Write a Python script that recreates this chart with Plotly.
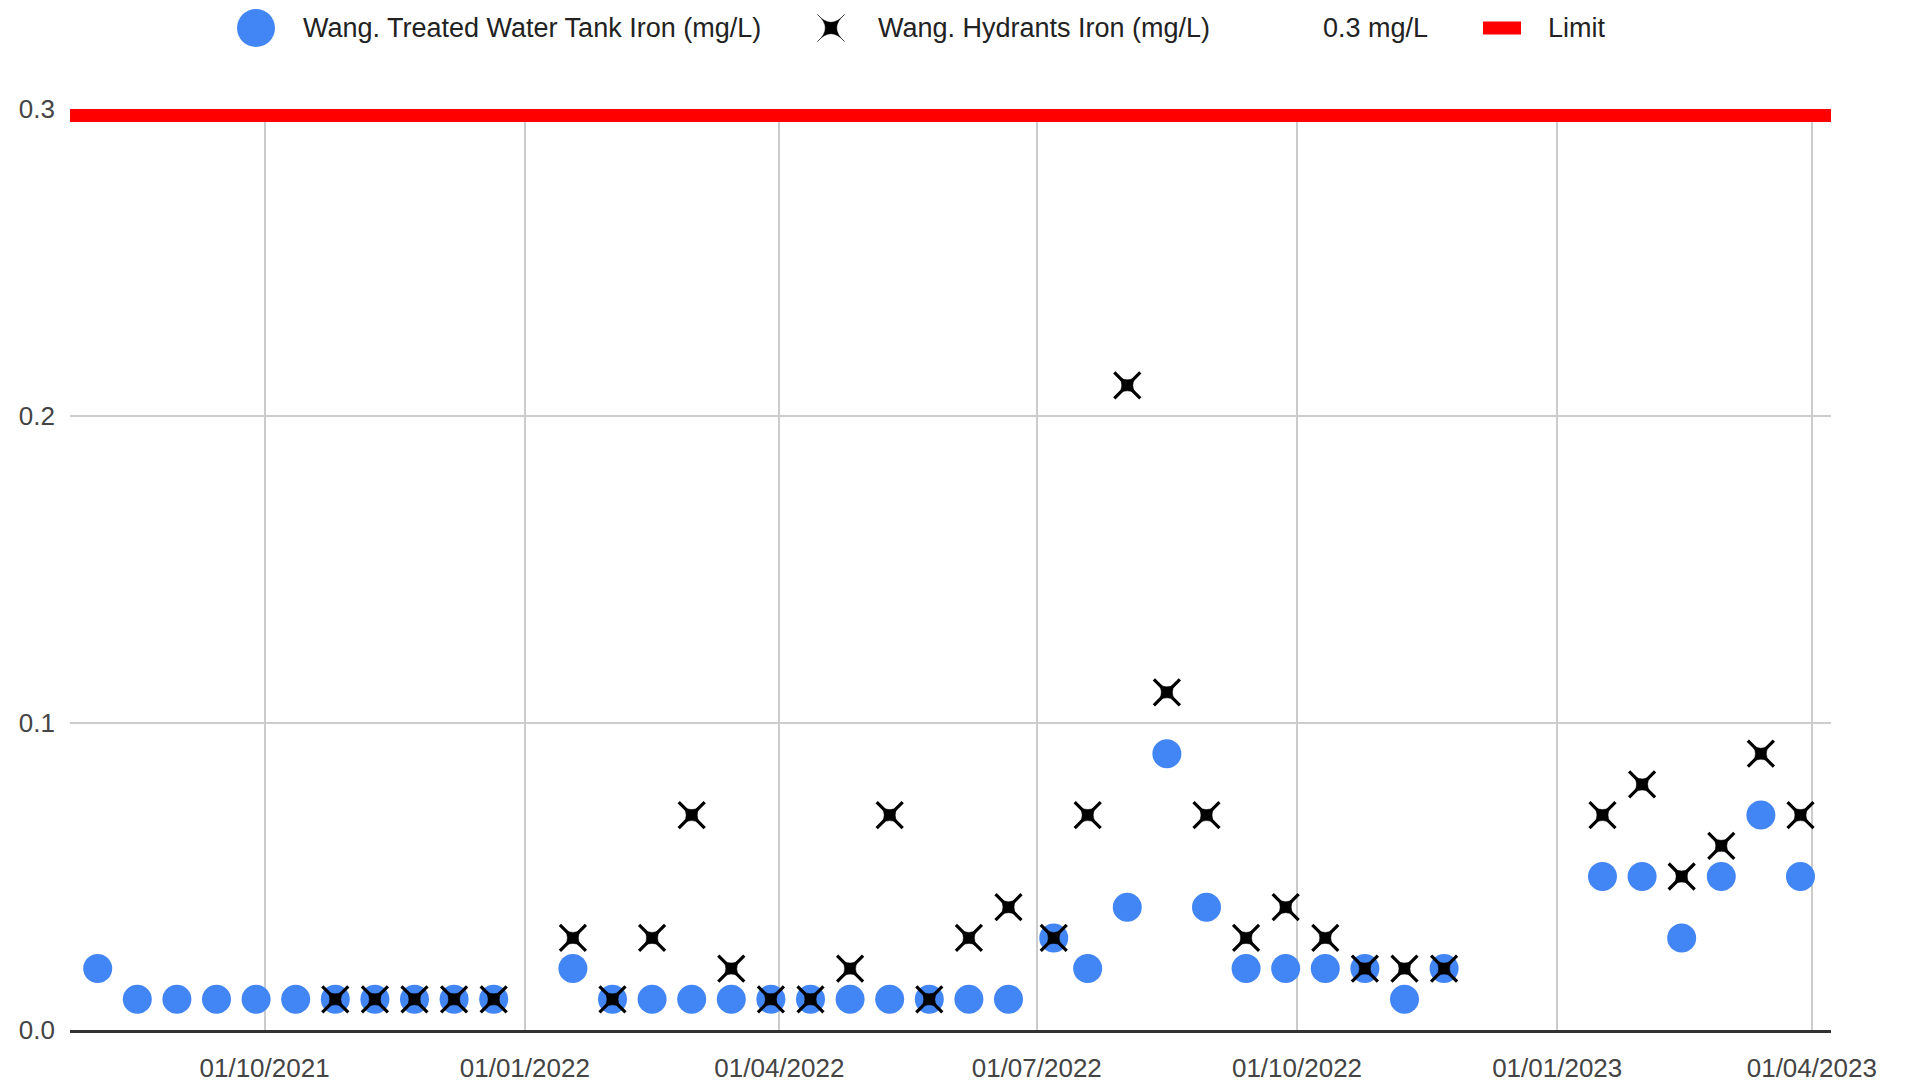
import plotly.graph_objects as go

# ---------------- data ----------------
sample_dates = [
    "2021-08-03", "2021-08-17", "2021-08-31", "2021-09-14", "2021-09-28",
    "2021-10-12", "2021-10-26", "2021-11-09", "2021-11-23", "2021-12-07", "2021-12-21",
    "2022-01-18", "2022-02-01", "2022-02-15", "2022-03-01", "2022-03-15", "2022-03-29",
    "2022-04-12", "2022-04-26", "2022-05-10", "2022-05-24", "2022-06-07", "2022-06-21",
    "2022-07-07", "2022-07-19", "2022-08-02", "2022-08-16", "2022-08-30", "2022-09-13",
    "2022-09-27", "2022-10-11", "2022-10-25", "2022-11-08", "2022-11-22",
    "2023-01-17", "2023-01-31", "2023-02-14", "2023-02-28", "2023-03-14", "2023-03-28",
]
tank_iron = [
    0.02, 0.01, 0.01, 0.01, 0.01,
    0.01, 0.01, 0.01, 0.01, 0.01, 0.01,
    0.02, 0.01, 0.01, 0.01, 0.01, 0.01,
    0.01, 0.01, 0.01, 0.01, 0.01, 0.01,
    0.03, 0.02, 0.04, 0.09, 0.04, 0.02,
    0.02, 0.02, 0.02, 0.01, 0.02,
    0.05, 0.05, 0.03, 0.05, 0.07, 0.05,
]
hydrant_iron = [
    None, None, None, None, None,
    None, 0.01, 0.01, 0.01, 0.01, 0.01,
    0.03, 0.01, 0.03, 0.07, 0.02, 0.01,
    0.01, 0.02, 0.07, 0.01, 0.03, 0.04,
    0.03, 0.07, 0.21, 0.11, 0.07, 0.03,
    0.04, 0.03, 0.02, 0.02, 0.02,
    0.07, 0.08, 0.05, 0.06, 0.09, 0.07,
]
limit_value = 0.3
x_range = ["2021-07-24 05:00", "2023-04-07 19:00"]
x_tick_start = "2021-10-01"
y_ticks = [0.0, 0.1, 0.2, 0.3]

series_names = [
    "Wang. Treated Water Tank Iron (mg/L)",
    "Wang. Hydrants Iron (mg/L)",
    "0.3 mg/L",
    "Limit",
]

# ---------------- style ----------------
BLUE = "#4285F4"
FONT = "Liberation Sans, Arial, sans-serif"
FS = 26
FS_LEG = 27
OFF = 8                       # page body margin in the browser
W, H = 1907 - 2 * OFF, 1086 - OFF
ML, MT = 70 - OFF, 109 - OFF
PW = 1831 - 70
PH = 1030 - 109
MR = W - ML - PW
MB = H - MT - PH


def px_x(px):  # page pixel -> paper fraction
    return (px - OFF - ML) / PW


def px_y(py):
    return (MT + PH - (py - OFF)) / PH


fig = go.Figure()

# limit line (thick, clipped at the top of the plot area)
fig.add_trace(go.Scatter(
    x=x_range, y=[limit_value, limit_value], mode="lines",
    line=dict(color="#ff0000", width=26), name=series_names[3],
    showlegend=False, hoverinfo="skip",
))

fig.add_trace(go.Scatter(
    x=sample_dates, y=tank_iron, mode="markers", name=series_names[0],
    marker=dict(color=BLUE, size=29, line=dict(width=0)),
    showlegend=False,
))

# hydrant markers: thin tapered 4-point "x" star (thin arms + thick centre)
fig.add_trace(go.Scatter(
    x=sample_dates, y=hydrant_iron, mode="markers", name=series_names[1],
    marker=dict(color="#000000", size=26, symbol="x-thin",
                line=dict(width=3.2, color="#000000")),
    showlegend=False,
))
fig.add_trace(go.Scatter(
    x=sample_dates, y=hydrant_iron, mode="markers", name=series_names[1],
    marker=dict(color="#000000", size=16, symbol="star-diamond", angle=45,
                line=dict(width=0.5, color="#000000")),
    showlegend=False, hoverinfo="skip",
))

# ---------------- custom legend ----------------
leg_y = px_y(28)
shapes = [
    dict(type="circle", xref="paper", yref="paper", xsizemode="pixel", ysizemode="pixel",
         xanchor=px_x(256), yanchor=leg_y, x0=-19, x1=19, y0=-19, y1=19,
         fillcolor=BLUE, line=dict(width=0)),
    dict(type="path", xref="paper", yref="paper", xsizemode="pixel", ysizemode="pixel",
         xanchor=px_x(831), yanchor=leg_y,
         path="M 13.5,13.5 Q 0,-2.1 -13.5,13.5 Q 2.1,0 -13.5,-13.5 Q 0,2.1 13.5,-13.5 Q -2.1,0 13.5,13.5 Z",
         fillcolor="#000000", line=dict(width=0.5, color="#000000")),
    dict(type="rect", xref="paper", yref="paper", xsizemode="pixel", ysizemode="pixel",
         xanchor=px_x(1502), yanchor=leg_y, x0=-19, x1=19, y0=-6.5, y1=6.5,
         fillcolor="#ff0000", line=dict(width=0)),
]
annotations = []
for name, tx in zip(series_names, [302, 877, 1322, 1547]):
    annotations.append(dict(
        text=name, xref="paper", yref="paper", x=px_x(tx), y=leg_y,
        xanchor="left", yanchor="middle", showarrow=False,
        font=dict(family=FONT, size=FS_LEG, color="#222222"), borderpad=0,
    ))

fig.update_layout(
    width=W, height=H,
    margin=dict(l=ML, r=MR, t=MT, b=MB, autoexpand=False),
    paper_bgcolor="#ffffff", plot_bgcolor="#ffffff",
    showlegend=False,
    shapes=shapes, annotations=annotations,
    font=dict(family=FONT, size=FS, color="#444444"),
    xaxis=dict(
        type="date", range=x_range, tick0=x_tick_start, dtick="M3",
        tickformat="%d/%m/%Y", showgrid=True, gridcolor="#cccccc", gridwidth=2,
        showline=True, linecolor="#333333", linewidth=3, zeroline=False,
        ticks="", ticklabelstandoff=13, automargin=False,
        tickfont=dict(family=FONT, size=FS, color="#444444"),
    ),
    yaxis=dict(
        range=[0, limit_value], tickvals=y_ticks, tickformat=".1f",
        showgrid=True, gridcolor="#cccccc", gridwidth=2, zeroline=False,
        showline=False, ticks="", ticklabelstandoff=14, automargin=False,
        tickfont=dict(family=FONT, size=FS, color="#444444"),
    ),
)

fig.write_html("out.html")
